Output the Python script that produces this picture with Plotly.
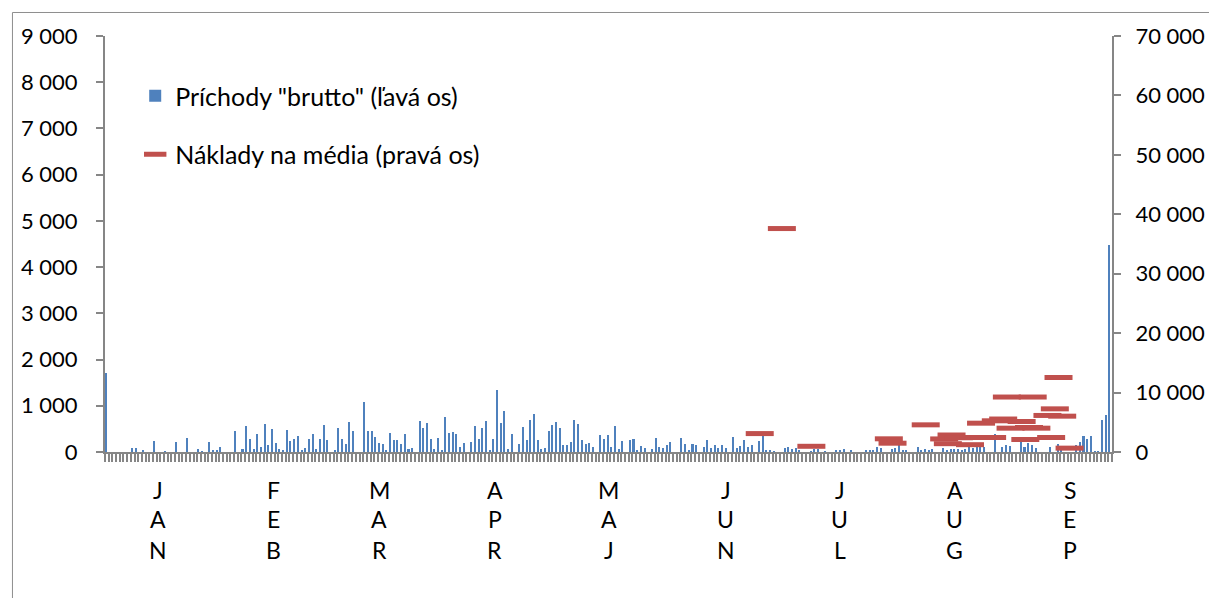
import plotly.graph_objects as go

# Daily arrivals ("Príchody brutto"), Jan 1 .. Sep 30 (left axis)
arrivals = [
    1716, 0, 0, 0, 0, 0, 0, 80, 80, 0,
    35, 0, 0, 230, 0, 0, 5, 0, 0, 216,
    0, 0, 300, 0, 0, 58, 10, 0, 216, 30,
    43, 100, 0, 0, 0, 447, 0, 58, 555, 274,
    58, 397, 108, 599, 159, 497, 195, 58, 22, 469,
    245, 274, 353, 22, 87, 274, 382, 58, 274, 584,
    260, 0, 36, 519, 274, 180, 642, 461, 0, 0,
    1074, 454, 454, 324, 195, 173, 22, 411, 267, 267,
    173, 389, 72, 80, 0, 670, 519, 620, 274, 65,
    303, 43, 750, 411, 425, 382, 101, 195, 0, 209,
    562, 281, 519, 678, 22, 281, 1341, 627, 887, 58,
    389, 0, 173, 541, 267, 692, 829, 260, 65, 80,
    454, 577, 649, 512, 159, 151, 209, 699, 606, 252,
    166, 195, 101, 0, 368, 281, 360, 101, 562, 65,
    245, 0, 260, 288, 43, 130, 94, 0, 58, 310,
    108, 94, 144, 216, 0, 0, 295, 173, 43, 166,
    144, 0, 108, 260, 87, 159, 80, 144, 87, 0,
    317, 94, 130, 260, 108, 151, 0, 245, 346, 22,
    22, 5, 0, 0, 87, 108, 72, 94, 29, 0,
    0, 10, 72, 58, 0, 10, 0, 0, 43, 43,
    58, 0, 22, 0, 0, 0, 43, 43, 43, 115,
    87, 0, 0, 65, 87, 151, 43, 22, 0, 0,
    115, 50, 65, 43, 65, 0, 0, 87, 50, 65,
    72, 65, 43, 72, 101, 80, 101, 173, 108, 0,
    0, 390, 0, 115, 151, 123, 0, 0, 220, 110,
    200, 155, 95, 0, 0, 0, 100, 0, 170, 130,
    0, 0, 0, 160, 212, 339, 285, 343, 14, 14,
    690, 808, 4479,
]
day_index = list(range(len(arrivals)))

# Media costs ("Náklady na média", right axis): day index and value
media_day = [177, 183, 191, 212, 213, 222, 227, 228, 229, 231, 234, 235, 237, 238,
             240, 241, 243, 244, 245, 248, 249, 250, 251, 252, 255, 256, 257, 258,
             259, 261]
media_cost = [3100, 37600, 960, 2220, 1480, 4570, 2200, 1400, 2860, 2400, 1230, 2440,
              4850, 2440, 2440, 5250, 5550, 9250, 4010, 5130, 2100, 4120, 9250, 4010,
              6150, 2440, 7260, 12540, 6030, 650]

# Month labels (stacked letters) and their positions on the day axis
month_names = ["JAN", "FEB", "MAR", "APR", "MAJ", "JUN", "JUL", "AUG", "SEP"]
month_pos = [13.9, 45.3, 73.8, 105.2, 136.1, 167.8, 198.7, 229.9, 261.1]

left_ticks = [0, 1000, 2000, 3000, 4000, 5000, 6000, 7000, 8000, 9000]
right_ticks = [0, 10000, 20000, 30000, 40000, 50000, 60000, 70000]

FONT = "Lato"
FS_AXIS = 22
FS_LEGEND = 25
GRAY = "#868686"
BLUE = "#4F81BD"
RED = "#C0504D"

fig = go.Figure()
fig.add_trace(go.Bar(
    x=day_index, y=arrivals, name='Príchody "brutto" (ľavá os)',
    marker=dict(color=BLUE, line=dict(width=0)),
    width=0.55, offset=-0.5, legendgroup="a",
))
fig.add_trace(go.Scatter(
    x=media_day, y=media_cost, yaxis="y2", mode="markers",
    name="Náklady na média (pravá os)", legendgroup="b",
    marker=dict(symbol="line-ew", size=20, color=RED,
                line=dict(color=RED, width=5)),
))

annotations = []
line_shift = [-38, -67, -98]
for name, pos in zip(month_names, month_pos):
    for k, ch in enumerate(name):
        annotations.append(dict(
            x=pos, y=0, xref="x", yref="paper", text=ch, showarrow=False,
            yanchor="middle", xanchor="center", yshift=line_shift[k],
            font=dict(family=FONT, size=FS_AXIS + 1, color="black"),
        ))

axis_font = dict(family=FONT, size=FS_AXIS, color="black")

fig.update_layout(
    width=1209, height=598,
    margin=dict(l=105, r=97, t=36, b=146, autoexpand=False),
    paper_bgcolor="white", plot_bgcolor="white",
    separators=", ",
    font=dict(family=FONT, size=FS_AXIS, color="black"),
    showlegend=True,
    legend=dict(x=0.03, y=0.911, xanchor="left", yanchor="top",
                traceorder="grouped", tracegroupgap=23,
                bgcolor="rgba(0,0,0,0)",
                font=dict(family=FONT, size=FS_LEGEND, color="black")),
    bargap=0,
    xaxis=dict(range=[-0.5, len(arrivals) - 0.5], tick0=-0.5, dtick=1,
               ticks="outside", ticklen=8, tickwidth=1.5, tickcolor=GRAY,
               showticklabels=False, showline=True, linecolor=GRAY, linewidth=2,
               showgrid=False, zeroline=False, automargin=False),
    yaxis=dict(range=[0, 9000], tickvals=left_ticks, tickformat=",d",
               tickfont=axis_font,
               ticks="outside", ticklen=7, tickwidth=1.5, tickcolor=GRAY,
               showline=True, linecolor=GRAY, linewidth=2, automargin=False,
               showgrid=False, zeroline=False, ticklabelstandoff=14),
    yaxis2=dict(range=[0, 70000], tickvals=right_ticks, tickformat=",d",
                tickfont=axis_font,
                overlaying="y", side="right", anchor="x",
                ticks="outside", ticklen=7, tickwidth=1.5, tickcolor=GRAY,
                showline=True, linecolor=GRAY, linewidth=2, automargin=False,
                showgrid=False, zeroline=False, ticklabelstandoff=10),
    annotations=annotations,
    shapes=[dict(type="rect", xref="paper", yref="paper",
                 x0=-0.0919, x1=1.3, y0=-0.6, y1=1.0565,
                 line=dict(color="#8e8e8e", width=1), layer="below")],
)

fig.write_html("out.html")
